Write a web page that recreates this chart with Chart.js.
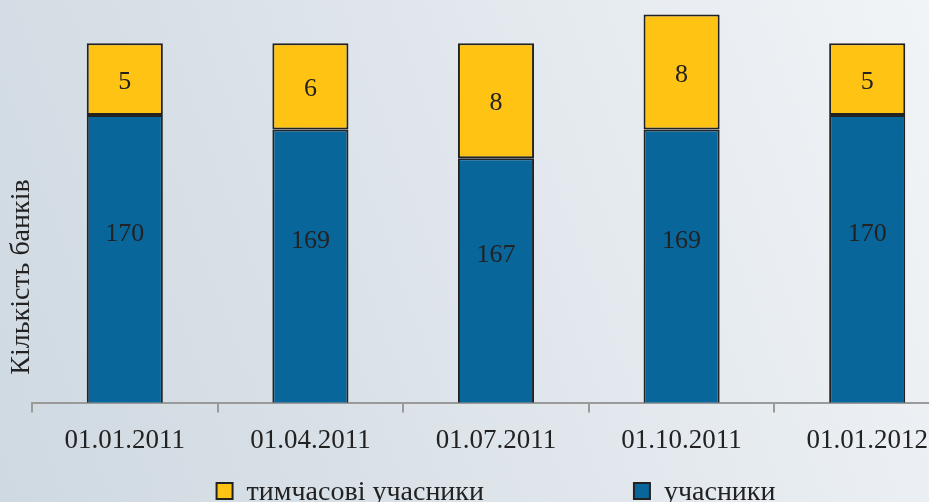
<!DOCTYPE html>
<html>
<head>
<meta charset="utf-8">
<script src="https://cdn.jsdelivr.net/npm/chart.js@4.4.1/dist/chart.umd.min.js"></script>
<style>
	html, body {
		margin: 0;
		padding: 0;
		width: 929px;
		height: 502px;
		overflow: hidden;
		background: linear-gradient(70deg, #cfd9e1 0%, #dde4ea 45%, #f1f4f7 100%);
	}
	#wrap {
		position: absolute;
		left: 0;
		top: 0;
		width: 960px;
		height: 502px;
	}
</style>
</head>
<body>
<div id="wrap"><canvas id="banks"></canvas></div>
<script>
const colBlue = "#09669b";
const colYellow = "#ffc313";
const colBorder = "#222222";
const fontFamily = "'Liberation Serif', 'DejaVu Serif', serif";

const dates = ["01.01.2011", "01.04.2011", "01.07.2011", "01.10.2011", "01.01.2012"];
const members = [170, 169, 167, 169, 170];
const tempMembers = [5, 6, 8, 8, 5];
const yTitle = "Кількість банків";

// значення у центрі кожного сегмента
const segmentLabels = {
	id: "segmentLabels",
	afterDatasetsDraw(chart) {
		const ctx = chart.ctx;
		const area = chart.chartArea;
		ctx.save();
		ctx.font = "26px " + fontFamily;
		ctx.fillStyle = "#222";
		ctx.textAlign = "center";
		ctx.textBaseline = "middle";
		chart.data.datasets.forEach((ds, i) => {
			const meta = chart.getDatasetMeta(i);
			meta.data.forEach((bar, j) => {
				const p = bar.getProps(["x", "y", "base"], true);
				const base = Math.min(p.base, area.bottom);
				let y = (p.y + base) / 2;
				if (i === 0) y -= 25;
				else y += 3;
				ctx.fillText(ds.data[j], p.x, y);
			});
		});
		ctx.restore();
	},
};

// підпис осі Y та легенда з широким проміжком
const extras = {
	id: "extras",
	afterDraw(chart) {
		const ctx = chart.ctx;
		const area = chart.chartArea;
		ctx.save();
		ctx.translate(22, 277);
		ctx.rotate(-Math.PI / 2);
		ctx.font = "28px " + fontFamily;
		ctx.fillStyle = "#222";
		ctx.textAlign = "center";
		ctx.textBaseline = "middle";
		ctx.fillText(yTitle, 0, 0);
		ctx.restore();

		ctx.save();
		ctx.font = "28px " + fontFamily;
		ctx.textBaseline = "middle";
		const items = chart.data.datasets.slice().reverse();
		const box = 16, gapText = 14, gapItem = 150;
		const widths = items.map((d) => box + gapText + ctx.measureText(d.label).width);
		const total = widths.reduce((a, b) => a + b, 0) + gapItem * (items.length - 1);
		let x = (area.left + area.right) / 2 - total / 2;
		const y = 491;
		items.forEach((d, i) => {
			ctx.fillStyle = d.backgroundColor;
			ctx.fillRect(x, y - box / 2, box, box);
			ctx.strokeStyle = colBorder;
			ctx.lineWidth = 2;
			ctx.strokeRect(x, y - box / 2, box, box);
			ctx.fillStyle = "#222";
			ctx.fillText(d.label, x + box + gapText, y + 2);
			x += widths[i] + gapItem;
		});
		ctx.restore();
	},
};

new Chart(document.getElementById("banks"), {
	type: "bar",
	data: {
		labels: dates,
		datasets: [
			{
				label: "учасники",
				data: members,
				backgroundColor: colBlue,
				borderColor: colBorder,
				borderWidth: 2,
				borderSkipped: false,
			},
			{
				label: "тимчасові учасники",
				data: tempMembers,
				backgroundColor: colYellow,
				borderColor: colBorder,
				borderWidth: 2,
				borderSkipped: false,
			},
		],
	},
	options: {
		responsive: true,
		maintainAspectRatio: false,
		animation: false,
		layout: {
			padding: { left: 32, right: 0, top: 0, bottom: 33 },
		},
		datasets: {
			bar: {
				categoryPercentage: 1,
				barPercentage: 0.41,
			},
		},
		plugins: {
			tooltip: { enabled: false },
			legend: { display: false },
		},
		scales: {
			x: {
				stacked: true,
				border: { color: "#9a9a9a", width: 2 },
				grid: {
					display: true,
					offset: true,
					drawOnChartArea: false,
					drawTicks: true,
					tickLength: 10,
					color: "#9a9a9a",
					lineWidth: 2,
				},
				ticks: {
					color: "#222",
					padding: 12,
					font: { family: fontFamily, size: 27 },
					maxRotation: 0,
				},
			},
			y: {
				stacked: true,
				display: false,
				min: 150,
				max: 178,
			},
		},
	},
	plugins: [segmentLabels, extras],
});
</script>
</body>
</html>
